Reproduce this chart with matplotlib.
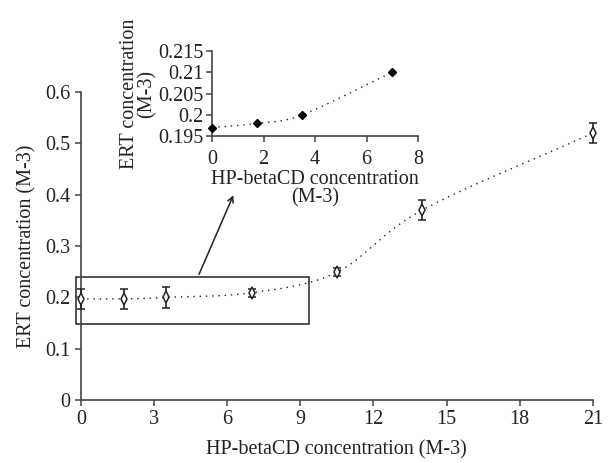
import numpy as np
import matplotlib.pyplot as plt
from matplotlib.patches import Rectangle

# HP-betaCD concentration vs ERT concentration (phase solubility)
hp_conc = [0, 1.75, 3.5, 7, 10.5, 14, 21]
ert_conc = [0.197, 0.197, 0.2, 0.209, 0.249, 0.37, 0.52]
ert_err = [0.02, 0.02, 0.02, 0.008, 0.008, 0.02, 0.02]

# zoomed inset (first four points)
inset_x = [0, 1.75, 3.5, 7]
inset_y = [0.197, 0.198, 0.2, 0.21]

x_ticks = [0, 3, 6, 9, 12, 15, 18, 21]
y_ticks = [0, 0.1, 0.2, 0.3, 0.4, 0.5, 0.6]
inset_xticks = [0, 2, 4, 6, 8]
inset_yticks = [0.195, 0.2, 0.205, 0.21, 0.215]
inset_ylabels = ["0.195", "0.2", "0.205", "0.21", "0.215"]


def smooth(x, y, n=30):
    # Catmull-Rom style smoothing, like a spreadsheet "smoothed line"
    x = np.asarray(x, float)
    y = np.asarray(y, float)
    px = np.concatenate([[2*x[0]-x[1]], x, [2*x[-1]-x[-2]]])
    py = np.concatenate([[2*y[0]-y[1]], y, [2*y[-1]-y[-2]]])
    xs, ys = [], []
    t = np.linspace(0, 1, n)
    for i in range(1, len(px)-2):
        p0, p1, p2, p3 = [np.array([px[j], py[j]]) for j in (i-1, i, i+1, i+2)]
        b1 = p1 + (p2 - p0)/6
        b2 = p2 - (p3 - p1)/6
        pts = ((1-t)**3)[:, None]*p1 + (3*(1-t)**2*t)[:, None]*b1 \
            + (3*(1-t)*t**2)[:, None]*b2 + (t**3)[:, None]*p2
        xs.extend(pts[:, 0])
        ys.extend(pts[:, 1])
    return xs, ys


plt.rcParams['font.family'] = ['Liberation Serif', 'DejaVu Serif']
col = '#222222'
fs = 14.5

fig = plt.figure(figsize=(6.13, 4.63), dpi=100)
ax = fig.add_axes([0.132, 0.136, 0.835, 0.665])

sx, sy = smooth(hp_conc, ert_conc)
ax.plot(sx, sy, ls=(0, (1, 3.5)), color=col, lw=1)
ax.errorbar(hp_conc, ert_conc, yerr=ert_err, fmt='d', mfc='white', mec=col,
            ms=5.8, mew=1.1, ecolor=col, elinewidth=1.2, capsize=3, capthick=1.2,
            zorder=3, clip_on=False)

ax.set_xlim(0, 21)
ax.set_ylim(0, 0.6)
ax.set_xticks(x_ticks)
ax.set_yticks(y_ticks)
ax.set_yticklabels([f"{v:g}" for v in y_ticks])
for s in ['top', 'right']:
    ax.spines[s].set_visible(False)
for s in ['left', 'bottom']:
    ax.spines[s].set_color('#444444')
    ax.spines[s].set_linewidth(1.2)
ax.tick_params(direction='out', length=4, width=1.1, color='#444444',
               labelsize=fs, labelcolor=col)
ax.set_xlabel("HP-betaCD concentration (M-3)", fontsize=fs, color=col, labelpad=8)
ax.set_ylabel("ERT concentration (M-3)", fontsize=fs, color=col, labelpad=6)

# box around the zoomed region and arrow to inset
ax.add_patch(Rectangle((-0.2, 0.148), 9.55, 0.092, fill=False, ec=col, lw=1.1,
                       clip_on=False))
ax.annotate("", xy=(6.3, 0.404), xytext=(4.8, 0.24),
            arrowprops=dict(arrowstyle='->', color=col, lw=1.1))

# inset
ins = fig.add_axes([0.346, 0.706, 0.336, 0.184])
ix, iy = smooth(inset_x, inset_y)
ins.plot(ix, iy, ls=(0, (1, 3.5)), color=col, lw=1)
ins.plot(inset_x, inset_y, 'D', color='black', ms=4.5, clip_on=False, zorder=3)
ins.set_xlim(0, 8)
ins.set_ylim(0.195, 0.215)
ins.set_xticks(inset_xticks)
ins.set_yticks(inset_yticks)
ins.set_yticklabels(inset_ylabels)
ins.patch.set_alpha(0)
for s in ['top', 'right']:
    ins.spines[s].set_visible(False)
for s in ['left', 'bottom']:
    ins.spines[s].set_color('#444444')
    ins.spines[s].set_linewidth(1.2)
ins.tick_params(direction='out', length=4, width=1.1, color='#444444',
                labelsize=fs, labelcolor=col)
ins.tick_params(axis='x', pad=6)
ins.tick_params(axis='y', pad=2)
ins.set_xlabel("HP-betaCD concentration\n(M-3)", fontsize=fs, color=col,
               labelpad=1, linespacing=0.9)
ins.set_ylabel("ERT concentration\n(M-3)", fontsize=fs, color=col,
               labelpad=1, linespacing=0.9)

fig.savefig("out.png", dpi=100)
